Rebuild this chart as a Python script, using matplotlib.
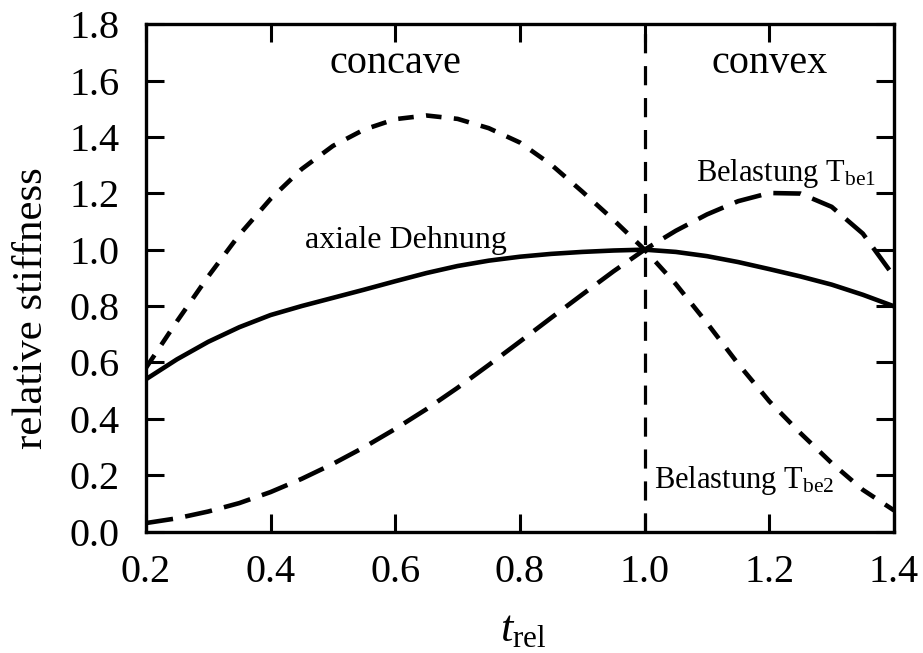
import matplotlib
matplotlib.use("Agg")
import matplotlib.pyplot as plt

plt.rcParams['font.family'] = ['Liberation Serif', 'DejaVu Serif']
plt.rcParams['mathtext.fontset'] = 'custom'
plt.rcParams['mathtext.rm'] = 'Liberation Serif'
plt.rcParams['mathtext.it'] = 'Liberation Serif:italic'

# data
t_rel = [0.20, 0.25, 0.30, 0.35, 0.40, 0.45, 0.50, 0.55, 0.60, 0.65, 0.70, 0.75, 0.80,
         0.85, 0.90, 0.95, 1.00, 1.05, 1.10, 1.15, 1.20, 1.25, 1.30, 1.35, 1.40]
axiale_dehnung = [0.540, 0.611, 0.673, 0.725, 0.768, 0.800, 0.829, 0.858, 0.888, 0.917,
                  0.942, 0.961, 0.975, 0.985, 0.992, 0.997, 1.000, 0.992, 0.977, 0.956,
                  0.931, 0.905, 0.876, 0.840, 0.799]
belastung_tbe1 = [0.030, 0.047, 0.071, 0.101, 0.140, 0.187, 0.240, 0.299, 0.364, 0.434,
                  0.510, 0.591, 0.674, 0.758, 0.841, 0.923, 1.000, 1.067, 1.125, 1.172,
                  1.201, 1.199, 1.152, 1.057, 0.905]
belastung_tbe2 = [0.580, 0.746, 0.905, 1.053, 1.180, 1.286, 1.368, 1.426, 1.463, 1.476,
                  1.464, 1.431, 1.380, 1.302, 1.206, 1.106, 1.000, 0.878, 0.740, 0.595,
                  0.462, 0.349, 0.243, 0.148, 0.075]
boundary_x = 1.0
xticks = [0.2, 0.4, 0.6, 0.8, 1.0, 1.2, 1.4]
yticks = [0.0, 0.2, 0.4, 0.6, 0.8, 1.0, 1.2, 1.4, 1.6, 1.8]

fig = plt.figure(figsize=(9.23, 6.53), dpi=100)
ax = fig.add_axes([0.158, 0.186, 0.8106, 0.777])

ax.plot(t_rel, axiale_dehnung, color='black', lw=3.3, solid_capstyle='round')
ax.plot(t_rel, belastung_tbe1, color='black', lw=3.3, dashes=(6.0, 2.7))
ax.plot(t_rel, belastung_tbe2, color='black', lw=3.3, dashes=(3.4, 2.7))
ax.axvline(boundary_x, color='black', lw=2.3, dashes=(6, 4))

ax.set_xlim(0.2, 1.4)
ax.set_ylim(0.0, 1.8)
ax.set_xticks(xticks)
ax.set_yticks(yticks)
ax.set_xticklabels([f"{v:.1f}" for v in xticks])
ax.set_yticklabels([f"{v:.1f}" for v in yticks])
ax.tick_params(direction='in', length=13, width=2.2, labelsize=29,
               top=True, right=True)
ax.tick_params(axis='x', pad=16)
ax.tick_params(axis='y', pad=19)
for s in ax.spines.values():
    s.set_linewidth(2.4)

ax.set_xlabel(r'$t_{\mathrm{rel}}$', fontsize=32, labelpad=17)
ax.xaxis.set_label_coords(0.504, -0.155)
ax.set_ylabel('relative stiffness', fontsize=31)
ax.yaxis.set_label_coords(-0.1525, 0.44)
ax.yaxis.label.set_va('center')

ax.text(0.60, 1.627, 'concave', fontsize=29, ha='center', va='baseline')
ax.text(1.20, 1.627, 'convex', fontsize=29, ha='center', va='baseline')
ax.text(0.455, 1.005, 'axiale Dehnung', fontsize=23, ha='left', va='baseline')
ax.text(1.082, 1.245, r'Belastung $\mathrm{T}_{\mathrm{be1}}$', fontsize=22,
        ha='left', va='baseline')
ax.text(1.015, 0.153, r'Belastung $\mathrm{T}_{\mathrm{be2}}$', fontsize=22,
        ha='left', va='baseline')

fig.savefig('out.png', dpi=100)
